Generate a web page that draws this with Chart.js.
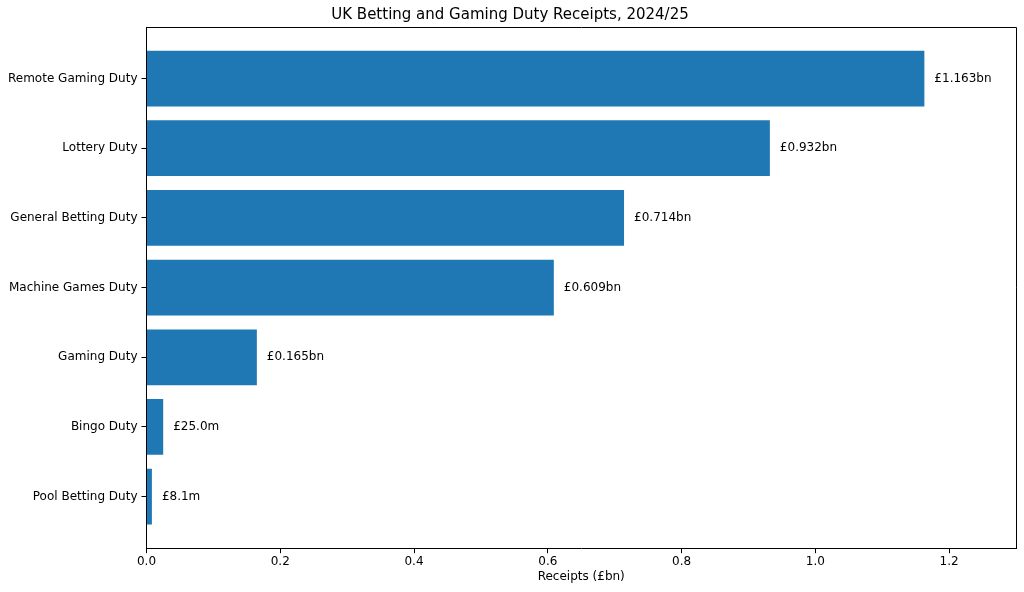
<!DOCTYPE html>
<html>
<head>
<meta charset="utf-8">
<script src="https://cdn.jsdelivr.net/npm/chart.js@4.4.0/dist/chart.umd.min.js"></script>
<style>
  html, body { margin: 0; padding: 0; background: #fff; }
  #wrap { width: 1024px; height: 592px; }
</style>
</head>
<body>
<div id="wrap"><canvas id="chart" width="1024" height="592"></canvas></div>
<script>
const duties = [
  "Remote Gaming Duty",
  "Lottery Duty",
  "General Betting Duty",
  "Machine Games Duty",
  "Gaming Duty",
  "Bingo Duty",
  "Pool Betting Duty",
];
const receipts = [1.163, 0.932, 0.714, 0.609, 0.165, 0.025, 0.0081];
const barLabels = ["£1.163bn", "£0.932bn", "£0.714bn", "£0.609bn", "£0.165bn", "£25.0m", "£8.1m"];
const xTicks = [0, 0.2, 0.4, 0.6, 0.8, 1.0, 1.2];

const FONT = "'DejaVu Sans', sans-serif";

// top/right frame lines + value labels at bar ends
const framePlugin = {
  id: "frame",
  afterDatasetsDraw(chart) {
    const { ctx, chartArea: a } = chart;
    const meta = chart.getDatasetMeta(0);
    ctx.save();
    ctx.font = "12px " + FONT;
    ctx.fillStyle = "#000";
    ctx.textBaseline = "middle";
    ctx.textAlign = "left";
    meta.data.forEach((bar, i) => {
      ctx.fillText(barLabels[i], bar.x + 10, bar.y);
    });
    const top = Math.round(a.top - 0.5) + 0.5;
    const right = Math.round(a.right - 0.5) + 0.5;
    ctx.strokeStyle = "#000";
    ctx.lineWidth = 1;
    ctx.beginPath();
    ctx.moveTo(a.left, top);
    ctx.lineTo(right, top);
    ctx.lineTo(right, a.bottom);
    ctx.stroke();
    ctx.restore();
  },
};

new Chart(document.getElementById("chart"), {
  type: "bar",
  data: {
    datasets: [{
      data: receipts.map((v, i) => ({ x: v, y: i })),
      backgroundColor: "#1f77b4",
      borderWidth: 0,
      barPercentage: 0.8,
      categoryPercentage: 1,
    }],
  },
  options: {
    indexAxis: "y",
    responsive: false,
    animation: false,
    layout: { padding: { left: 4, right: 8, bottom: 8 } },
    plugins: {
      legend: { display: false },
      tooltip: { enabled: false },
      title: {
        display: true,
        text: "UK Betting and Gaming Duty Receipts, 2024/25",
        color: "#000",
        font: { family: FONT, size: 15, weight: "normal" },
        padding: { top: 6, bottom: 3 },
      },
    },
    scales: {
      x: {
        type: "linear",
        min: 0,
        max: 1.3,
        afterBuildTicks(s) { s.ticks = xTicks.map(v => ({ value: v })); },
        ticks: {
          color: "#000",
          font: { family: FONT, size: 12 },
          padding: 1,
          maxRotation: 0,
          callback: v => v.toFixed(1),
        },
        grid: { drawOnChartArea: false, drawTicks: true, tickLength: 5, color: "#000" },
        border: { display: true, color: "#000" },
        title: {
          display: true,
          text: "Receipts (£bn)",
          color: "#000",
          font: { family: FONT, size: 12 },
          padding: { top: 0, bottom: 0 },
        },
      },
      y: {
        type: "linear",
        reverse: true,
        offset: false,
        min: -0.74,
        max: 6.74,
        afterBuildTicks(s) { s.ticks = duties.map((_, i) => ({ value: i })); },
        ticks: {
          color: "#000",
          font: { family: FONT, size: 12 },
          padding: 4,
          autoSkip: false,
          callback: v => duties[v],
        },
        grid: { offset: false, drawOnChartArea: false, drawTicks: true, tickLength: 5, color: "#000" },
        border: { display: true, color: "#000" },
      },
    },
  },
  plugins: [framePlugin],
});
</script>
</body>
</html>
